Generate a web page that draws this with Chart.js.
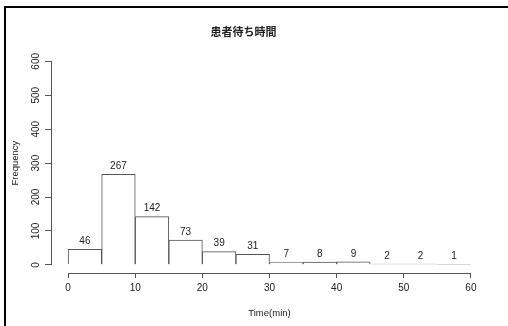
<!DOCTYPE html>
<html>
<head>
<meta charset="utf-8">
<script src="https://cdn.jsdelivr.net/npm/chart.js@4/dist/chart.umd.min.js"></script>
<style>
    html, body { margin: 0; background: #fff; overflow: hidden; }
    #wrap { position: relative; width: 508px; height: 326px; overflow: hidden; }
    #histChart { display: block; }
    #frame {
        position: absolute; left: 4px; top: 6px; width: 600px; height: 400px;
        border-left: 2px solid #000; border-top: 2px solid #000;
        pointer-events: none;
    }
</style>
</head>
<body>
<div id="wrap">
    <canvas id="histChart" width="508" height="326"></canvas>
    <div id="frame"></div>
</div>
<script>
// Histogram data (bins of 5 minutes)
const breaks = [0, 5, 10, 15, 20, 25, 30, 35, 40, 45, 50, 55, 60];
const counts = [46, 267, 142, 73, 39, 31, 7, 8, 9, 2, 2, 1];
const xTicks = [0, 10, 20, 30, 40, 50, 60];
const yTicks = [0, 100, 200, 300, 400, 500, 600];

const titleText = '患者待ち時間';
const xTitle = 'Time(min)';
const yTitle = 'Frequency';

const axisColor = '#555';
const textColor = '#222';
const fontFamily = 'Arial, "Liberation Sans", sans-serif';

// Draw axis lines (only between first and last tick, like R) and bar counts
const histExtras = {
    id: 'histExtras',
    afterDatasetsDraw(chart) {
        const ctx = chart.ctx;
        const meta = chart.getDatasetMeta(0);
        ctx.save();
        ctx.fillStyle = textColor;
        ctx.font = '10px ' + fontFamily;
        ctx.textAlign = 'center';
        ctx.textBaseline = 'bottom';
        meta.data.forEach((bar, i) => {
            ctx.fillText(String(counts[i]), bar.x, bar.y - 3);
        });
        ctx.restore();
    },
    afterDraw(chart) {
        const ctx = chart.ctx;
        const x = chart.scales.x;
        const y = chart.scales.y;
        ctx.save();
        ctx.strokeStyle = axisColor;
        ctx.lineWidth = 1;
        ctx.beginPath();
        const yy = Math.round(x.top) + 0.5;
        ctx.moveTo(x.getPixelForValue(xTicks[0]), yy);
        ctx.lineTo(x.getPixelForValue(xTicks[xTicks.length - 1]), yy);
        const xx = Math.round(y.right) - 0.5;
        ctx.moveTo(xx, y.getPixelForValue(yTicks[0]));
        ctx.lineTo(xx, y.getPixelForValue(yTicks[yTicks.length - 1]));
        ctx.stroke();
        ctx.restore();
    }
};

new Chart(document.getElementById('histChart'), {
    type: 'bar',
    data: {
        datasets: [{
            data: counts.map((c, i) => ({ x: (breaks[i] + breaks[i + 1]) / 2, y: c })),
            backgroundColor: '#fff',
            borderColor: axisColor,
            borderWidth: 1,
            barPercentage: 1,
            categoryPercentage: 1
        }]
    },
    options: {
        responsive: false,
        animation: false,
        devicePixelRatio: 1,
        layout: { padding: { left: 0, right: 21, top: 0, bottom: 0 } },
        plugins: {
            legend: { display: false },
            tooltip: { enabled: false },
            title: {
                display: true,
                text: titleText,
                color: textColor,
                font: { size: 11, weight: 'bold', family: '"Noto Sans CJK JP", sans-serif' },
                padding: { top: 25, bottom: 15 }
            }
        },
        scales: {
            x: {
                type: 'linear',
                offset: false,
                min: -2.4,
                max: 62.4,
                afterBuildTicks: s => { s.ticks = xTicks.map(v => ({ value: v })); },
                afterFit: s => { s.height = 53; },
                grid: { offset: false, drawOnChartArea: false, tickLength: 5, color: axisColor },
                border: { display: false },
                ticks: { color: textColor, padding: 4, maxRotation: 0, font: { size: 10, family: fontFamily } },
                title: {
                    display: true, text: xTitle, color: textColor,
                    font: { size: 9.5, family: fontFamily },
                    padding: { top: 0, bottom: 7 }
                }
            },
            y: {
                min: -24,
                max: 624,
                afterBuildTicks: s => { s.ticks = yTicks.map(v => ({ value: v })); },
                afterFit: s => { s.width = 52; },
                grid: { drawOnChartArea: false, tickLength: 7, color: axisColor },
                border: { display: false },
                ticks: {
                    color: textColor, padding: 0, minRotation: 90, maxRotation: 90,
                    crossAlign: 'center', font: { size: 10, family: fontFamily }
                },
                title: {
                    display: true, text: yTitle, color: textColor,
                    font: { size: 9.5, family: fontFamily },
                    padding: { top: 10, bottom: 0 }
                }
            }
        }
    },
    plugins: [histExtras]
});
</script>
</body>
</html>
